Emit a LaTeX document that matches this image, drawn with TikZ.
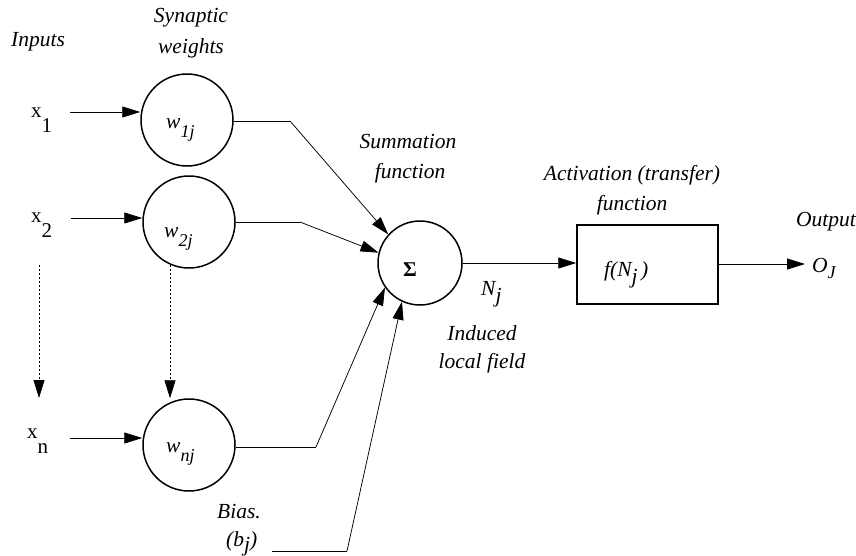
\documentclass[tikz,border=0pt]{standalone}
\usepackage{fontspec}
\setmainfont{Liberation Serif}
\usetikzlibrary{arrows.meta}
\newcommand\lowsub[2]{\raisebox{-#1}{#2}}
\begin{document}
\begin{tikzpicture}[x=1pt,y=-1pt,
  lbl/.style={font=\fontsize{21.5}{25}\selectfont\itshape, inner sep=0pt},
  xlbl/.style={font=\fontsize{21}{25}\selectfont, inner sep=0pt, anchor=base west},
  wlbl/.style={font=\fontsize{21.5}{25}\selectfont\itshape, inner sep=0pt, anchor=base west},
  neuron/.style={circle, draw, line width=1.5pt, minimum size=92pt, inner sep=0pt},
  conn/.style={line width=0.75pt},
  arr/.style={conn, -{Triangle[length=18pt,width=11pt]}},
  dotarr/.style={arr, dash pattern=on 2pt off 2pt}]
\useasboundingbox (0,0) rectangle (856,555);

% headings
\node[lbl] (inputs) at (38,42) {Inputs};
\node[lbl] (syn1) at (191,18) {Synaptic};
\node[lbl] (syn2) at (191,48) {weights};
\node[lbl] (sum1) at (408,142) {Summation};
\node[lbl] (sum2) at (410,173) {function};
\node[lbl] (act1) at (632,175) {Activation (transfer)};
\node[lbl] (act2) at (632,205) {function};
\node[lbl] (out) at (826,222) {Output};
\node[lbl] (ind1) at (482,333) {Induced};
\node[lbl] (ind2) at (482,363) {local field};
\node[lbl] (bias) at (239,512) {Bias.};

% input labels
\node[xlbl] (x1) at (31,117) {x\lowsub{15pt}{1}};
\node[xlbl] (x2) at (31,222) {x\lowsub{15pt}{2}};
\node[xlbl] (xn) at (27,438) {x\lowsub{15pt}{n}};

% weight neurons
\node[neuron] (w1) at (187,120) {};
\node[neuron] (w2) at (189,222) {};
\node[neuron] (wn) at (189,445) {};
\node[wlbl] (w1t) at (166,128) {w\lowsub{9pt}{\fontsize{18}{18}\selectfont 1j}};
\node[wlbl] (w2t) at (164,237) {w\lowsub{9pt}{\fontsize{18}{18}\selectfont 2j}};
\node[wlbl] (wnt) at (166,452) {w\lowsub{9pt}{\fontsize{18}{18}\selectfont nj}};

% summation
\node[circle, draw, line width=1.5pt, minimum size=84pt, inner sep=0pt] (sigma) at (420,263) {};
\node[inner sep=0pt, font=\fontsize{21}{25}\selectfont\bfseries] (sigt) at (410,270) {Σ};

% activation box
\node[draw, line width=1.5pt, minimum width=141pt, minimum height=79pt, inner sep=0pt] (box) at (647.5,264.5) {};
\node[wlbl] (ft) at (604,276) {f(N\lowsub{7pt}{j}\,)};

% other labels
\node[wlbl] (nj) at (481,295) {N\lowsub{7pt}{j}};
\node[wlbl] (oj) at (812,272) {O\lowsub{6pt}{\fontsize{18}{18}\selectfont J}};
\node[wlbl] (bj) at (226,546) {(b\lowsub{5pt}{j})};

% coordinates
\coordinate (s1) at (70,112);
\coordinate (s2) at (71,218);
\coordinate (sn) at (70,438);
\coordinate (c1) at (290,121);
\coordinate (c2) at (300,222);
\coordinate (cn) at (316,447);
\coordinate (bs) at (272,551);
\coordinate (cb) at (347,551);
\coordinate (d1) at (39,265);
\coordinate (d1e) at (39,398);
\coordinate (d2) at (170,265);
\coordinate (oe) at (805,264);

% input arrows
\draw[arr] (s1) -- (s1 -| w1.west);
\draw[arr] (s2) -- (s2 -| w2.west);
\draw[arr] (sn) -- (sn -| wn.west);

% dotted arrows
\draw[dotarr] (d1) -- (d1e);
\draw[dotarr] (d2) -- (d2 |- wn.north);

% weights to sum
\draw[conn] (w1.east |- c1) -- (c1);
\draw[arr] (c1) -- (sigma.138);
\draw[conn] (w2.east) -- (c2);
\draw[arr] (c2) -- (sigma.166);
\draw[conn] (wn.east |- cn) -- (cn);
\draw[arr] (cn) -- (sigma.215);
\draw[conn] (bs) -- (cb);
\draw[arr] (cb) -- (sigma.245);

% sum to activation, output
\draw[arr] (sigma.east) -- (sigma.east -| box.west);
\draw[arr] (box.east |- oe) -- (oe);
\end{tikzpicture}
\end{document}
